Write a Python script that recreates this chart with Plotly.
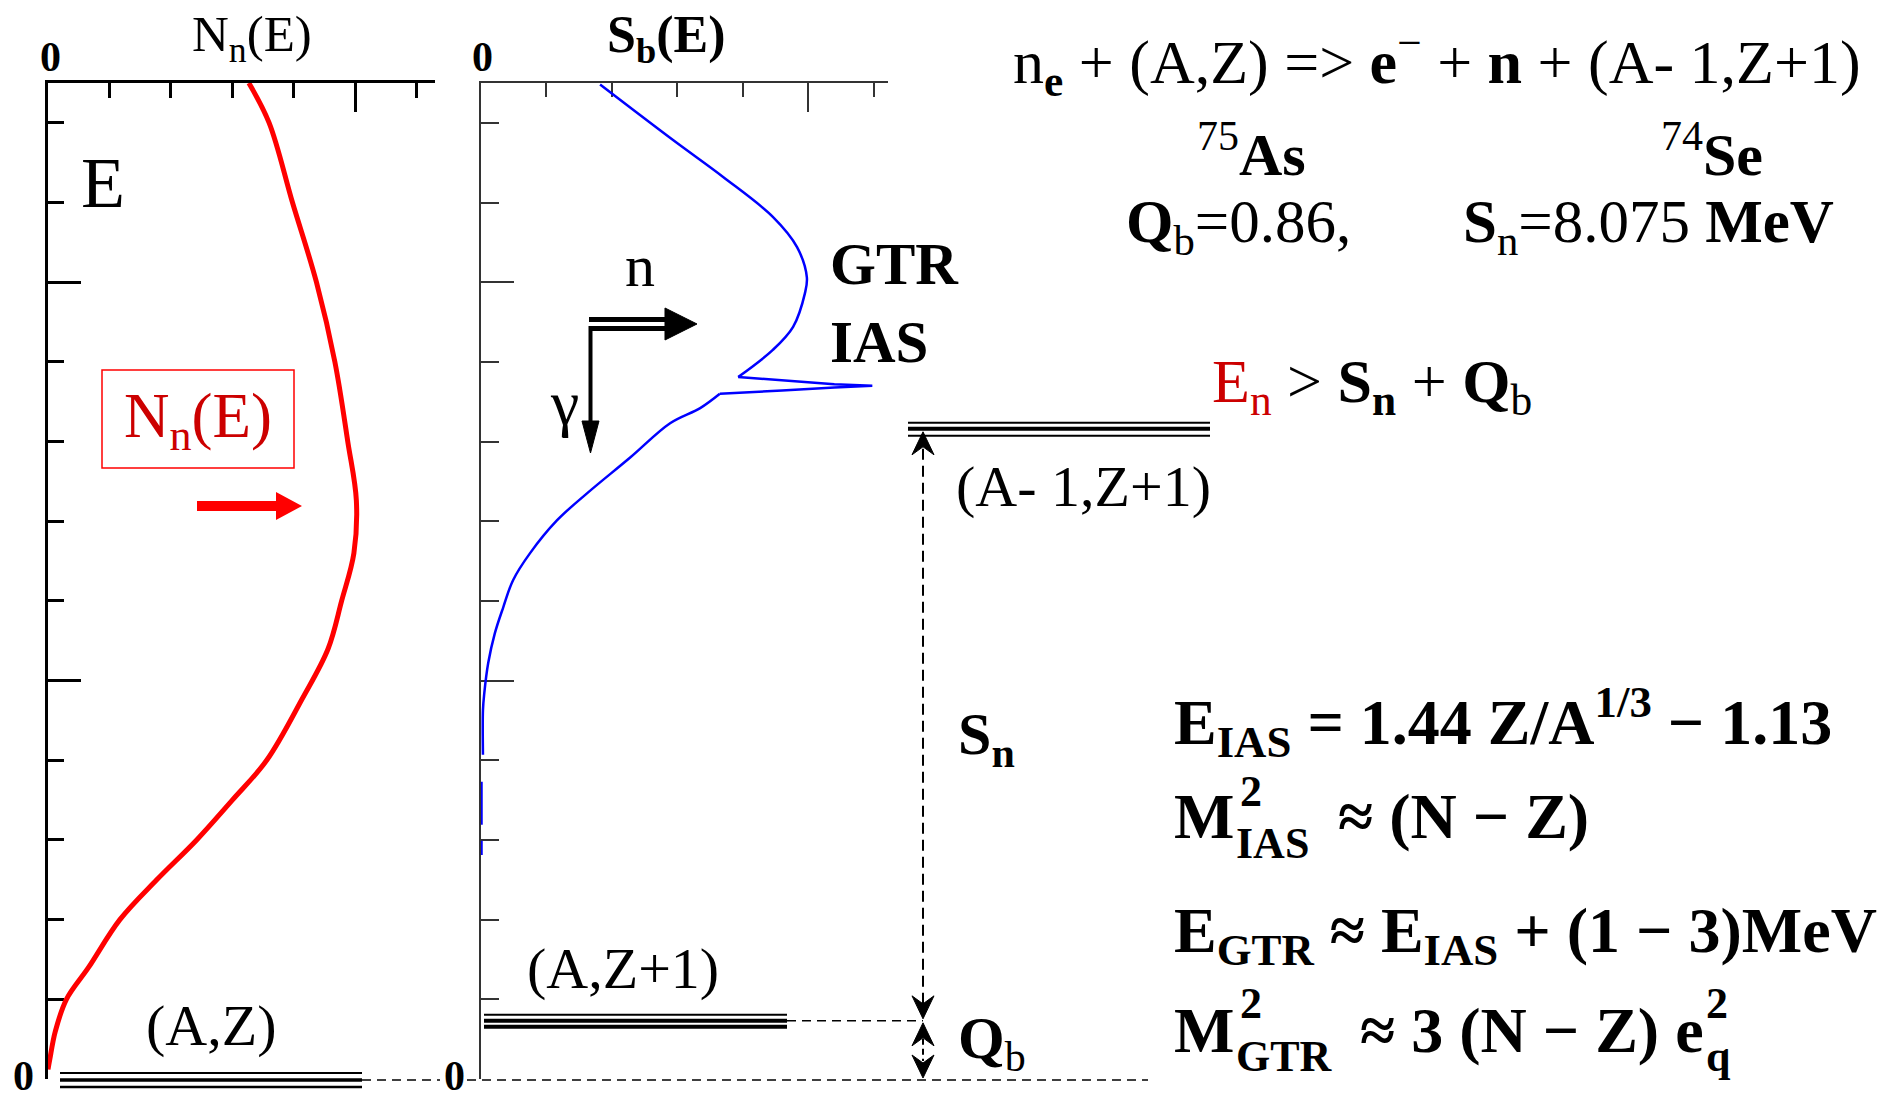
import plotly.graph_objects as go

# ---- data -------------------------------------------------------------
# neutrino-induced energy spectrum N_n(E) (left panel), E in panel units
energy_nn = [12.5, 12.0, 11.0, 10.0, 9.0, 8.0, 7.26, 6.6, 6.0, 5.4, 4.76,
             4.0, 3.5, 3.0, 2.5, 2.0, 1.4, 1.0, 0.6, 0.25, 0.12]
flux_nn = [3.27, 3.6, 3.98, 4.37, 4.67, 4.88, 5.02, 4.98, 4.78, 4.56, 4.13,
           3.56, 3.0, 2.42, 1.77, 1.17, 0.66, 0.30, 0.12, 0.03, 0.0]

# beta strength function S_b(E) (middle panel): GTR bump, IAS spike, low tail
energy_gtr = [12.48, 11.78, 11.32, 10.82, 10.44, 10.06, 9.86, 9.44, 9.15, 8.81]
strength_gtr = [1.82, 2.94, 3.70, 4.46, 4.83, 4.98, 4.95, 4.77, 4.46, 3.93]
energy_ias = [8.81, 8.77, 8.72, 8.70, 8.68, 8.64, 8.60]
strength_ias = [3.93, 4.6, 5.4, 5.98, 5.4, 4.6, 3.65]
energy_low = [8.60, 8.42, 8.23, 7.80, 7.35, 7.01, 6.60, 6.26, 5.92, 5.59,
              5.22, 4.84, 4.63, 4.07]
strength_low = [3.65, 3.35, 2.89, 2.28, 1.62, 1.16, 0.75, 0.49, 0.34, 0.21,
                0.11, 0.05, 0.03, 0.03]
energy_tail = [3.73, 3.19, None, 2.99, 2.81]
strength_tail = [0.0, 0.0, None, 0.0, 0.0]

# nuclear levels (same energy scale as the panels)
level_names = ["(A,Z)", "(A,Z+1)", "(A- 1,Z+1)"]
level_energies = [0.0, 0.73, 8.16]

axis_zero_label = "0"

# ---- geometry helpers --------------------------------------------------
W, H = 1904, 1093
E_TOP = 12.5
Y_BOT, Y_TOP = 1079, 83
PX_E = E_TOP / (Y_BOT - Y_TOP)          # energy units per pixel


def X(px):
    return px / W


def Y(py):
    return 1 - py / H


def ypx(e):
    # pixel row of an energy on the shared vertical scale
    return Y_BOT - e / PX_E


def path(points):
    return "M " + " L ".join(f"{X(a):.5f},{Y(b):.5f}" for a, b in points) + " Z"


SERIF = "Liberation Serif"

fig = go.Figure()

fig.add_trace(go.Scatter(
    x=flux_nn, y=energy_nn, mode="lines", xaxis="x", yaxis="y",
    line=dict(color="#ff0000", width=5, shape="spline", smoothing=1.0),
    cliponaxis=False, hoverinfo="skip"))

for xs, ys, shp in [(strength_gtr, energy_gtr, "spline"),
                    (strength_ias, energy_ias, "linear"),
                    (strength_low, energy_low, "spline")]:
    fig.add_trace(go.Scatter(
        x=xs, y=ys, mode="lines", xaxis="x2", yaxis="y2",
        line=dict(color="#0000ff", width=2.5, shape=shp),
        cliponaxis=False, hoverinfo="skip"))
fig.add_trace(go.Scatter(
    x=strength_tail, y=energy_tail, mode="lines", xaxis="x2", yaxis="y2",
    line=dict(color="#0000ff", width=3.5), cliponaxis=False,
    connectgaps=False, hoverinfo="skip"))


def xaxis(dom, rng, lw, col, minor_len):
    return dict(domain=dom, range=rng, side="top", showline=True,
                linewidth=lw, linecolor=col, ticks="inside", ticklen=29,
                tickwidth=lw, tickcolor=col, tickmode="array",
                tickvals=[0, 5], showticklabels=False, showgrid=False,
                zeroline=False, fixedrange=True, layer="below traces",
                minor=dict(ticks="inside", ticklen=minor_len, tickwidth=lw,
                           tickcolor=col, tickmode="array",
                           tickvals=[1, 2, 3, 4, 6], showgrid=False))


def yaxis(dom, lw, col, minor_len):
    return dict(domain=dom, range=[0, E_TOP], showline=True,
                linewidth=lw, linecolor=col, ticks="inside", ticklen=33,
                tickwidth=lw, tickcolor=col, tickmode="array",
                tickvals=[0, 5, 10], showticklabels=False, showgrid=False,
                zeroline=False, fixedrange=True, layer="below traces",
                minor=dict(ticks="inside", ticklen=minor_len, tickwidth=lw,
                           tickcolor=col, tickmode="array",
                           tickvals=[1, 2, 3, 4, 6, 7, 8, 9, 11, 12],
                           showgrid=False))


ydom = [Y(Y_BOT), Y(Y_TOP)]
fig.update_layout(
    width=W, height=H, margin=dict(l=0, r=0, t=0, b=0),
    paper_bgcolor="white", plot_bgcolor="rgba(0,0,0,0)", showlegend=False,
    hovermode=False,
    xaxis=xaxis([X(48), X(435)], [0, 6.3], 3, "black", 15) | dict(anchor="y"),
    yaxis=yaxis(ydom, 3, "black", 16) | dict(anchor="x"),
    xaxis2=xaxis([X(481), X(888)], [0, 6.22], 2, "#333333", 14) | dict(anchor="y2"),
    yaxis2=yaxis(ydom, 2, "#333333", 18) | dict(anchor="x2"),
)

shapes = []


def seg(x0, y0, x1, y1, w, color="black", dash="solid"):
    shapes.append(dict(type="line", xref="paper", yref="paper",
                       x0=X(x0), x1=X(x1), y0=Y(y0), y1=Y(y1),
                       line=dict(color=color, width=w, dash=dash)))


# triple energy-level lines
level_spans = [(60, 362), (484, 787), (908, 1210)]
level_offsets = [((-6, 2), (1, 3.5), (8, 2.5)),
                 ((-6, 2), (0, 4), (6, 4)),
                 ((-6, 2), (0, 4), (7, 2))]
for e, (xa, xb), offs in zip(level_energies, level_spans, level_offsets):
    for off, w in offs:
        yy = ypx(e) + off
        seg(xa, yy, xb, yy, w)

DASH = "9px,6px"
y_az, y_az1, y_sep = (ypx(e) for e in level_energies)
# horizontal dashed guides
seg(362, y_az + 1, 440, y_az + 1, 1.5, dash=DASH)
seg(467, y_az + 1, 1148, y_az + 1, 1.5, dash=DASH)
seg(787, y_az1, 923, y_az1, 1.5, dash=DASH)

# S_n and Q_b double arrows
AX = 923
seg(AX, y_sep + 20, AX, y_az1 - 12, 2, dash="11px,6px")
seg(AX, y_az1 + 18, AX, y_az - 18, 2, dash="6px,4px")


def head(tip, up):
    s = 1 if up else -1
    return dict(type="path", xref="paper", yref="paper",
                path=path([(AX, tip), (AX + 11, tip + s * 23),
                           (AX, tip + s * 15), (AX - 11, tip + s * 23)]),
                fillcolor="black", line=dict(color="black", width=1))


shapes.append(head(y_sep + 3, True))
shapes.append(head(y_az1 - 2, False))
shapes.append(head(y_az1 + 2, True))
shapes.append(head(y_az - 1, False))

# n (double shaft) and gamma arrows
seg(589, 319.5, 668, 319.5, 5)
seg(589, 328.5, 668, 328.5, 5)
shapes.append(dict(type="path", xref="paper", yref="paper",
                   path=path([(665, 308), (697, 324), (665, 340)]),
                   fillcolor="black", line=dict(color="black", width=1)))
seg(590.5, 326, 590.5, 428, 4)
shapes.append(dict(type="path", xref="paper", yref="paper",
                   path=path([(582, 421), (590.5, 453), (599, 421)]),
                   fillcolor="black", line=dict(color="black", width=1)))

# red box and red arrow in the left panel
shapes.append(dict(type="rect", xref="paper", yref="paper",
                   x0=X(102), x1=X(294), y0=Y(468), y1=Y(370),
                   line=dict(color="#ff0000", width=1.5)))
shapes.append(dict(type="path", xref="paper", yref="paper",
                   path=path([(197, 501), (276, 501), (276, 492), (302, 506),
                              (276, 520), (276, 511), (197, 511)]),
                   fillcolor="#ff0000", line=dict(color="#ff0000", width=0)))

fig.update_layout(shapes=shapes)

anns = []


def text(t, x, y, size, xanchor="center", color="black", yanchor="middle"):
    anns.append(dict(text=t, x=X(x), y=Y(y), xref="paper", yref="paper",
                     xanchor=xanchor, yanchor=yanchor, showarrow=False,
                     font=dict(family=SERIF, size=size, color=color)))


# axis zero labels
zero = f"<b>{axis_zero_label}</b>"
text(zero, 50, 57, 42)
text(zero, 482, 57, 42)
text(zero, 23, 1076, 42)
text(zero, 454, 1076, 42)

text("N<sub>n</sub>(E)", 252, 38, 51)
text("<b>S<sub>b</sub>(E)</b>", 666, 38, 52)
text("E", 103, 183, 72)
text("N<sub>n</sub>(E)", 198, 420, 63, color="#cc0000")
text(level_names[0], 211, 1025, 58)
text(level_names[1], 623, 968, 58)
text(level_names[2], 1083, 486, 58)
text("<b>S<sub>n</sub></b>", 956, 738, 60, xanchor="left")
text("<b>Q</b><sub>b</sub>", 956, 1042, 60, xanchor="left")
text("<b>GTR</b>", 828, 264, 59, xanchor="left")
text("<b>IAS</b>", 828, 342, 59, xanchor="left")
text("n", 640, 266, 60)
text("γ", 564, 402, 64)

text("n<sub><b>e</b></sub> + (A,Z) => <b>e</b><sup>−</sup> + <b>n</b> + (A- 1,Z+1)",
     1437, 62, 62)
text("<sup>75</sup><b>As</b>", 1251, 150, 60)
text("<sup>74</sup><b>Se</b>", 1712, 150, 60)
text("<b>Q</b><sub>b</sub>=0.86,", 1238, 226, 61)
text("<b>S</b><sub>n</sub>=8.075 <b>MeV</b>", 1648, 226, 61)
text("<span style='color:#cc0000'>E<sub>n</sub></span> > <b>S<sub>n</sub></b> + <b>Q</b><sub>b</sub>",
     1372, 385, 62)

text("<b>E<sub>IAS</sub> = 1.44 Z/A<sup>1/3</sup> − 1.13</b>", 1172, 722, 64, xanchor="left")
text("<b>M</b>", 1172, 816, 64, xanchor="left")
text("<b>2</b>", 1238, 791, 44, xanchor="left")
text("<b>IAS</b>", 1234, 843, 44, xanchor="left")
text("<b>≈ (N − Z)</b>", 1336, 816, 64, xanchor="left")
text("<b>E<sub>GTR</sub> ≈ E<sub>IAS</sub> + (1 − 3)MeV</b>", 1172, 935, 64, xanchor="left")
text("<b>M</b>", 1172, 1030, 64, xanchor="left")
text("<b>2</b>", 1238, 1003, 44, xanchor="left")
text("<b>GTR</b>", 1234, 1056, 44, xanchor="left")
text("<b>≈ 3 (N − Z) e</b>", 1358, 1030, 64, xanchor="left")
text("<b>2</b>", 1704, 1003, 44, xanchor="left")
text("<b>q</b>", 1704, 1056, 44, xanchor="left")

fig.update_layout(annotations=anns)

fig.write_html("out.html")
